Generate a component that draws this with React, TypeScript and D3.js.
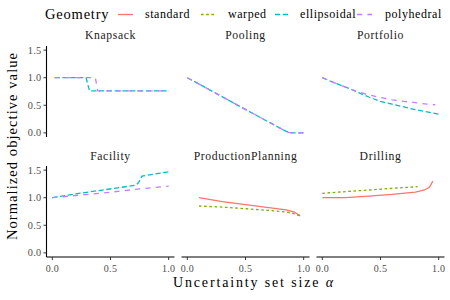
import React from 'react';
import * as d3 from 'd3';

type Pt = [number, number];

const geometries = ['standard', 'warped', 'ellipsoidal', 'polyhedral'];
const geomColors = ['#F8766D', '#7CAE00', '#00BFC4', '#C77CFF'];
const geomDashes = ['none', '2.6,2.6', '5.2,2.6', '5.2,5.2'];

const problems = ['Knapsack', 'Pooling', 'Portfolio', 'Facility', 'ProductionPlanning', 'Drilling'];

const xTicks = [0, 0.5, 1];
const yTicks = [0, 0.5, 1, 1.5];

// Knapsack
const knapsackEllipsoidal: Pt[] = [[0.02, 1], [0.29, 1], [0.32, 0.76], [1, 0.76]];
const knapsackPolyhedral: Pt[] = [[0.02, 1], [0.37, 1], [0.39, 0.76], [1, 0.76]];
// Pooling
const poolingEllipsoidal: Pt[] = [[0, 1], [0.2, 0.77], [0.4, 0.54], [0.6, 0.31], [0.75, 0.14], [0.82, 0.06], [0.87, 0.01], [0.9, 0], [1, 0]];
const poolingPolyhedral: Pt[] = [[0, 1], [0.2, 0.77], [0.4, 0.54], [0.6, 0.31], [0.75, 0.14], [0.82, 0.06], [0.87, 0.01], [0.9, 0], [1, 0]];
// Portfolio
const portfolioEllipsoidal: Pt[] = [[0, 1], [0.1, 0.91], [0.2, 0.83], [0.3, 0.74], [0.4, 0.65], [0.5, 0.57], [0.6, 0.52], [0.7, 0.47], [0.8, 0.42], [0.9, 0.38], [1, 0.34]];
const portfolioPolyhedral: Pt[] = [[0, 1], [0.1, 0.91], [0.2, 0.83], [0.3, 0.75], [0.4, 0.69], [0.5, 0.64], [0.6, 0.6], [0.7, 0.57], [0.8, 0.55], [0.9, 0.52], [0.97, 0.51]];
// Facility
const facilityEllipsoidal: Pt[] = [[0, 1], [0.2, 1.07], [0.4, 1.13], [0.6, 1.19], [0.72, 1.23], [0.74, 1.27], [0.77, 1.39], [0.85, 1.42], [1, 1.47]];
const facilityPolyhedral: Pt[] = [[0, 1], [0.25, 1.05], [0.5, 1.1], [0.75, 1.16], [1, 1.21]];
// ProductionPlanning
const productionStandard: Pt[] = [[0.1, 1], [0.3, 0.93], [0.5, 0.875], [0.7, 0.82], [0.85, 0.78], [0.92, 0.74], [0.97, 0.67]];
const productionWarped: Pt[] = [[0.1, 0.85], [0.3, 0.83], [0.5, 0.8], [0.7, 0.77], [0.85, 0.74], [0.92, 0.71], [0.97, 0.67]];
// Drilling
const drillingStandard: Pt[] = [[0, 1], [0.2, 1], [0.4, 1.03], [0.6, 1.06], [0.8, 1.1], [0.88, 1.14], [0.92, 1.19], [0.95, 1.3]];
const drillingWarped: Pt[] = [[0, 1.08], [0.2, 1.11], [0.4, 1.14], [0.6, 1.17], [0.82, 1.2]];

const panelSeries: { geom: number; pts: Pt[] }[][] = [
  [{ geom: 2, pts: knapsackEllipsoidal }, { geom: 3, pts: knapsackPolyhedral }],
  [{ geom: 2, pts: poolingEllipsoidal }, { geom: 3, pts: poolingPolyhedral }],
  [{ geom: 2, pts: portfolioEllipsoidal }, { geom: 3, pts: portfolioPolyhedral }],
  [{ geom: 2, pts: facilityEllipsoidal }, { geom: 3, pts: facilityPolyhedral }],
  [{ geom: 0, pts: productionStandard }, { geom: 1, pts: productionWarped }],
  [{ geom: 0, pts: drillingStandard }, { geom: 1, pts: drillingWarped }],
];

const font = 'Liberation Serif';
const colLefts = [46.5, 181.5, 316.5];
const panelW = 128;
const rowTops = [46, 166];
const panelH = 91;

const App = () => {
  const x = d3.scaleLinear().domain([-0.05, 1.05]).range([0, panelW]);
  const y = d3.scaleLinear().domain([-0.075, 1.575]).range([panelH, 0]);
  const line = d3.line<Pt>().x(d => x(d[0])).y(d => y(d[1]));

  const legendItems = [
    { kx: 118, tx: 145 },
    { kx: 201, tx: 228 },
    { kx: 275, tx: 300 },
    { kx: 357, tx: 385 },
  ];

  return (
    <svg width={450} height={300} style={{ position: 'absolute', left: 0, top: 0 }}>
      <rect width={450} height={300} fill="#fff" />
      <g fontFamily={font}>
        {/* legend */}
        <text x={45} y={19} fontSize={14.5} letterSpacing={0.8} fill="#000">Geometry</text>
        {geometries.map((g, i) => (
          <g key={g}>
            <line x1={legendItems[i].kx} x2={legendItems[i].kx + 15} y1={14.5} y2={14.5}
              stroke={geomColors[i]} strokeWidth={1.3} strokeDasharray={geomDashes[i]} />
            <text x={legendItems[i].tx} y={18} fontSize={12} letterSpacing={0.55} fill="#000">{g}</text>
          </g>
        ))}
        {problems.map((p, pi) => {
          const col = pi % 3;
          const row = Math.floor(pi / 3);
          const left = colLefts[col];
          const top = rowTops[row];
          return (
            <g key={p} transform={`translate(${left},${top})`}>
              <text x={panelW / 2} y={row === 0 ? -7.5 : -6.5} textAnchor="middle" fontSize={11.7}
                letterSpacing={0.6} fill="#1A1A1A">{p}</text>
              {panelSeries[pi].map((s, si) => (
                <path key={si} d={line(s.pts) || ''} fill="none" stroke={geomColors[s.geom]}
                  strokeWidth={1.3} strokeDasharray={geomDashes[s.geom]} />
              ))}
              {col === 0 && (
                <g>
                  <line x1={0} x2={0} y1={0} y2={panelH} stroke="#000" strokeWidth={1.1} />
                  {yTicks.map(t => (
                    <g key={t}>
                      <line x1={-3} x2={0} y1={y(t)} y2={y(t)} stroke="#333" strokeWidth={1} />
                      <text x={-5} y={y(t)} dy="0.35em" textAnchor="end" fontSize={10.3}
                        letterSpacing={0.3} fill="#4D4D4D">{t.toFixed(1)}</text>
                    </g>
                  ))}
                </g>
              )}
              {row === 1 && (
                <g>
                  <line x1={0} x2={panelW} y1={panelH} y2={panelH} stroke="#000" strokeWidth={1.1} />
                  {xTicks.map(t => (
                    <g key={t}>
                      <line x1={x(t)} x2={x(t)} y1={panelH} y2={panelH + 3} stroke="#333" strokeWidth={1} />
                      <text x={x(t)} y={panelH + 15} textAnchor="middle" fontSize={10}
                        letterSpacing={0.3} fill="#4D4D4D">{t.toFixed(1)}</text>
                    </g>
                  ))}
                </g>
              )}
            </g>
          );
        })}
        <text x={173} y={287} fontSize={14} textLength={160} lengthAdjust="spacing" fill="#000">
          Uncertainty set size <tspan fontStyle="italic">α</tspan>
        </text>
        <text transform="translate(17,240) rotate(-90)" fontSize={14.5} textLength={187}
          lengthAdjust="spacing" fill="#000">Normalized objective value</text>
      </g>
    </svg>
  );
};

export default App;
